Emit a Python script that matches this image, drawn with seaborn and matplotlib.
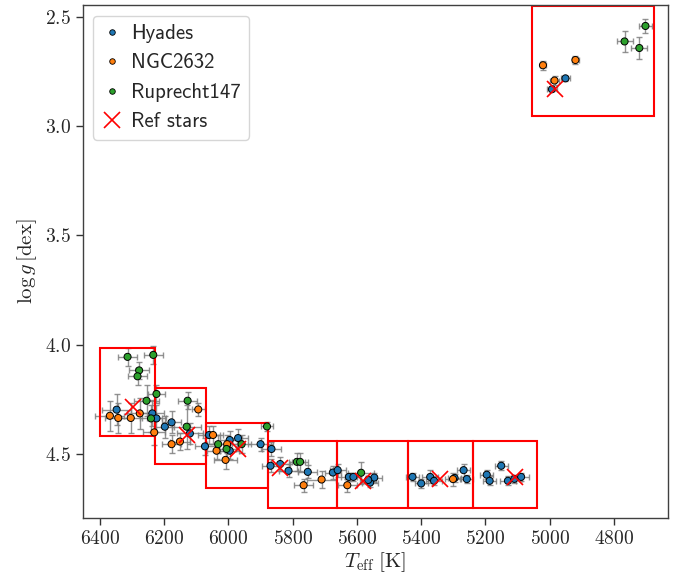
import numpy as np
import pandas as pd
import matplotlib
matplotlib.use("Agg")
import matplotlib.pyplot as plt
import seaborn as sns
from matplotlib.patches import Rectangle
from matplotlib.lines import Line2D

# Hyades
hya_teff = [6348, 6237, 6224, 6198, 6177, 6120,
            6060, 6073, 5996, 5970, 5996, 5900, 5866, 5869,
            5839, 5813, 5753, 5675, 5660,
            5625, 5611, 5559, 5546, 5565,
            5427, 5400, 5372, 5360, 5296, 5268, 5258,
            5196, 5187, 5151, 5130, 5089, 5110,
            4951, 4993]
hya_logg = [4.298, 4.315, 4.338, 4.376, 4.356, 4.407,
            4.414, 4.466, 4.437, 4.428, 4.486, 4.456, 4.478, 4.555,
            4.547, 4.578, 4.583, 4.586, 4.575,
            4.606, 4.606, 4.632, 4.609, 4.620,
            4.606, 4.636, 4.606, 4.624, 4.611, 4.575, 4.616,
            4.596, 4.624, 4.555, 4.624, 4.606, 4.615,
            2.780, 2.830]
hya_eteff = [45, 35, 30, 30, 30, 40,
             35, 30, 30, 30, 30, 40, 30, 25,
             30, 30, 30, 25, 25,
             25, 25, 25, 25, 25,
             20, 20, 25, 25, 20, 20, 20,
             20, 20, 20, 25, 25, 25,
             15, 15]
hya_elogg = [0.07, 0.06, 0.06, 0.05, 0.05, 0.05,
             0.04, 0.04, 0.04, 0.04, 0.04, 0.03, 0.03, 0.03,
             0.03, 0.03, 0.03, 0.03, 0.03,
             0.02, 0.02, 0.02, 0.02, 0.02,
             0.02, 0.02, 0.03, 0.02, 0.02, 0.03, 0.02,
             0.02, 0.02, 0.02, 0.02, 0.02, 0.02,
             0.01, 0.01]

# NGC2632
ngc_teff = [6369, 6343, 6304, 6276, 6231, 6177, 6151, 6094, 6048, 6037,
            6009, 6004, 5766, 5710, 5630, 5301, 5021, 4920, 4985]
ngc_logg = [4.326, 4.336, 4.336, 4.315, 4.402, 4.456, 4.444, 4.297, 4.414, 4.486,
            4.528, 4.456, 4.644, 4.618, 4.644, 4.616, 2.720, 2.696, 2.790]
ngc_eteff = [45, 40, 35, 40, 35, 30, 30, 20, 30, 30,
             35, 30, 30, 45, 30, 25, 10, 10, 15]
ngc_elogg = [0.07, 0.07, 0.07, 0.07, 0.06, 0.04, 0.04, 0.03, 0.04, 0.04,
             0.04, 0.04, 0.03, 0.04, 0.03, 0.03, 0.02, 0.02, 0.02]

# Ruprecht147
rup_teff = [6314, 6234, 6278, 6283, 6255, 6224, 6241, 6130, 6127, 6032,
            6006, 5959, 5880, 5787, 5777, 5587, 4767, 4721, 4702]
rup_logg = [4.056, 4.047, 4.118, 4.145, 4.257, 4.226, 4.338, 4.376, 4.257, 4.456,
            4.478, 4.456, 4.375, 4.537, 4.537, 4.587, 2.611, 2.641, 2.540]
rup_eteff = [30, 30, 30, 30, 40, 25, 35, 45, 30, 35,
             30, 30, 20, 25, 25, 40, 25, 25, 20]
rup_elogg = [0.04, 0.04, 0.04, 0.04, 0.07, 0.04, 0.06, 0.10, 0.04, 0.04,
             0.04, 0.04, 0.02, 0.04, 0.04, 0.05, 0.05, 0.05, 0.03]

# reference stars
ref_teff = [6296, 6130, 5970, 5840, 5581, 5342, 5109, 4982]
ref_logg = [4.288, 4.414, 4.478, 4.567, 4.627, 4.616, 4.605, 2.827]

# bins: (teff high, teff low, logg low, logg high)
box_thi = [6400, 6229, 6070, 5878, 5661, 5441, 5240, 5054]
box_tlo = [6229, 6070, 5877, 5661, 5441, 5240, 5040, 4674]
box_glo = [4.014, 4.197, 4.358, 4.440, 4.440, 4.440, 4.440, 2.450]
box_ghi = [4.417, 4.546, 4.656, 4.748, 4.748, 4.748, 4.748, 2.951]

clusters = ["Hyades", "NGC2632", "Ruprecht147"]

df = pd.concat([
    pd.DataFrame({"teff": hya_teff, "logg": hya_logg, "eteff": hya_eteff,
                  "elogg": hya_elogg, "cluster": "Hyades"}),
    pd.DataFrame({"teff": ngc_teff, "logg": ngc_logg, "eteff": ngc_eteff,
                  "elogg": ngc_elogg, "cluster": "NGC2632"}),
    pd.DataFrame({"teff": rup_teff, "logg": rup_logg, "eteff": rup_eteff,
                  "elogg": rup_elogg, "cluster": "Ruprecht147"}),
], ignore_index=True)

sns.set_style("ticks")
plt.rcParams["font.family"] = "serif"
plt.rcParams["font.serif"] = ["cmr10", "DejaVu Serif"]
plt.rcParams["mathtext.fontset"] = "cm"
plt.rcParams["axes.formatter.use_mathtext"] = True
plt.rcParams["axes.unicode_minus"] = False

fig = plt.figure(figsize=(6.74, 5.8), dpi=100)
ax = fig.add_axes([0.123, 0.107, 0.868, 0.884])

palette = dict(zip(clusters, sns.color_palette("tab10", 3)))

# error bars first
ax.errorbar(df["teff"], df["logg"], xerr=df["eteff"], yerr=df["elogg"],
            fmt="none", ecolor="grey", elinewidth=1, capsize=2, capthick=1,
            alpha=0.85, zorder=1)

sns.scatterplot(data=df, x="teff", y="logg", hue="cluster", hue_order=clusters,
                palette=palette, s=26, edgecolor="black", linewidth=0.7,
                zorder=3, ax=ax, legend=False)

ax.plot(ref_teff, ref_logg, "x", color="red", ms=12, mew=1.2, zorder=4)

for thi, tlo, glo, ghi in zip(box_thi, box_tlo, box_glo, box_ghi):
    ax.add_patch(Rectangle((tlo, glo), thi - tlo, ghi - glo, fill=False,
                           edgecolor="red", linewidth=1.5, zorder=2))

ax.set_xlim(6453, 4632)
ax.set_ylim(4.794, 2.445)
ax.set_xticks(np.arange(6400, 4700, -200))
ax.set_yticks([2.5, 3.0, 3.5, 4.0, 4.5])
ax.tick_params(labelsize=14, length=5, width=1, color="0.2")
for sp in ax.spines.values():
    sp.set_color("0.25")
    sp.set_linewidth(1)

ax.set_xlabel(r"$T_{\rm eff}\ [\mathrm{K}]$", fontsize=15, labelpad=2)
ax.set_ylabel(r"$\log g\,[\mathrm{dex}]$", fontsize=15)

handles = [Line2D([], [], ls="none", marker="o", ms=4, mfc=palette[c],
                  mec="black", mew=0.6, label=c) for c in clusters]
handles.append(Line2D([], [], ls="none", marker="x", ms=12, mew=1.2,
                      color="red", label="Ref stars"))
ax.legend(handles=handles, loc="upper left", frameon=True, fancybox=True,
          edgecolor="0.8", handletextpad=0.4, borderpad=0.4,
          prop={"family": "cmss10", "size": 15}, handlelength=1.0)

fig.savefig("out.png", dpi=100)
